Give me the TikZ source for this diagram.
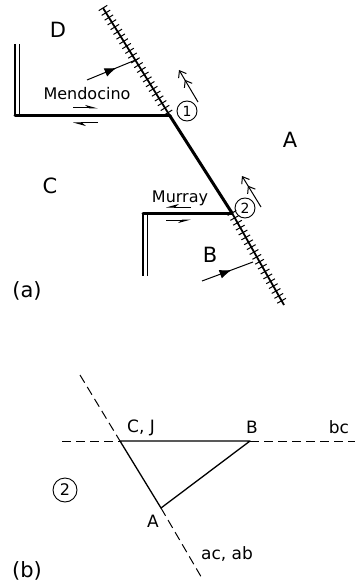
\documentclass[tikz,border=0pt]{standalone}
\usepackage{fontspec}
\setmainfont{DejaVu Sans}
\usetikzlibrary{arrows.meta,calc,decorations.pathreplacing,decorations.markings}
\tikzset{
  faultln/.style={line width=3pt, line cap=round},
  trenchln/.style={line width=1.8pt},
  trenchtick/.style={line width=1pt, decorate,
    decoration={ticks, segment length=5.6pt, amplitude=5pt}},
  ridgeln/.style={line width=1.2pt},
  slipln/.style={line width=1pt},
  halfR/.style={slipln, -{Stealth[right,length=11pt,width=6pt]}},
  halfL/.style={slipln, -{Stealth[left,length=11pt,width=6pt]}},
  motion/.style={line width=1pt,
    -{Straight Barb[length=6pt,width=9pt,sep=4pt]Straight Barb[length=6pt,width=9pt]}},
  converge/.style={line width=1pt, postaction={decorate},
    decoration={markings, mark=at position 0.58 with
      {\arrow{Latex[length=12pt,width=9pt]}}}},
  dashln/.style={line width=1pt, dash pattern=on 9pt off 5pt},
  triln/.style={line width=1.3pt},
  plate/.style={font=\fontsize{21}{21}\selectfont},
  faultname/.style={font=\fontsize{16}{16}\selectfont},
  junc/.style={draw, circle, line width=0.9pt, inner sep=1.2pt,
    minimum size=20pt, font=\fontsize{14}{14}\selectfont},
  vlabel/.style={font=\fontsize{17}{17}\selectfont},
}

\begin{document}
\begin{tikzpicture}[x=1pt,y=-1pt]
  \useasboundingbox (0,0) rectangle (355,583);
  % --- (a) plate boundaries ---
  \coordinate (trtop) at (103,8);
  \coordinate (j1) at (170,116);
  \coordinate (j2) at (232,213);
  \coordinate (trbot) at (284,305);
  \coordinate (mendW) at (15,116);
  \coordinate (murW) at (143,213);
  \draw[trenchln] (trtop) -- (j1);
  \draw[trenchtick] (trtop) -- (j1);
  \draw[trenchln] (j2) -- (trbot);
  \draw[trenchtick] (j2) -- (trbot);
  \draw[faultln] (j1) -- (j2);
  \draw[faultln] (mendW) -- (j1);
  \draw[faultln] (murW) -- (j2);
  % ridges
  \draw[ridgeln] (15,44) -- (mendW);
  \draw[ridgeln] (19.5,44) -- (19.5,114);
  \draw[ridgeln] (murW) -- (143,276);
  \draw[ridgeln] (147.5,215) -- (147.5,276);
  % slip arrows
  \coordinate (m1a) at (73,108); \coordinate (m1b) at (98,108);
  \coordinate (m2a) at (98,123); \coordinate (m2b) at (73,123);
  \coordinate (r1a) at (191,207); \coordinate (r1b) at (166,207);
  \coordinate (r2a) at (166,220); \coordinate (r2b) at (191,220);
  \draw[halfL] (m1a) -- (m1b);
  \draw[halfL] (m2a) -- (m2b);
  \draw[halfR] (r1a) -- (r1b);
  \draw[halfR] (r2a) -- (r2b);
  % convergence and motion
  \coordinate (cv1a) at (87,80); \coordinate (cv1b) at (138,59);
  \coordinate (cv2a) at (202,281); \coordinate (cv2b) at (253,262);
  \draw[converge] (cv1a) -- (cv1b);
  \draw[converge] (cv2a) -- (cv2b);
  \coordinate (mv1a) at (198,102); \coordinate (mv1b) at (179,70);
  \coordinate (mv2a) at (261,207); \coordinate (mv2b) at (242,176);
  \draw[motion] (mv1a) -- (mv1b);
  \draw[motion] (mv2a) -- (mv2b);
  % labels
  \node[junc] (n1) at (187,111) {1};
  \node[junc] (n2) at (245,208) {2};
  \node[plate] (pD) at (58,30) {D};
  \node[plate] (pA) at (290,140) {A};
  \node[plate] (pC) at (50,186) {C};
  \node[plate] (pB) at (210,255) {B};
  \node[faultname] (lmend) at (87,94) {Mendocino};
  \node[faultname] (lmur) at (180,198) {Murray};
  \node[plate] (la) at (27,291) {(a)};
  % --- (b) velocity triangle ---
  \coordinate (vC) at (120,441);
  \coordinate (vB) at (250,441);
  \coordinate (vA) at (161,508);
  \coordinate (dtop) at (80,375);
  \coordinate (dbot) at (203,580);
  \coordinate (hW) at (62,441);
  \coordinate (hE) at (355,441);
  \draw[dashln] (dtop) -- (vC);
  \draw[dashln] (vA) -- (dbot);
  \draw[dashln] (hW) -- (vC);
  \draw[dashln] (vB) -- (hE);
  \draw[triln, line join=round] (vC) -- (vB) -- (vA) -- cycle;
  \node[vlabel] (lCJ) at (141,428) {C, J};
  \node[vlabel] (lB) at (252,427) {B};
  \node[vlabel] (lbc) at (339,427) {bc};
  \node[vlabel] (lA) at (153,521) {A};
  \node[vlabel] (lac) at (227,554) {ac, ab};
  \node[junc, minimum size=24pt, font=\fontsize{16}{16}\selectfont] (n2b) at (65,490) {2};
  \node[plate] (lb) at (27,571) {(b)};
\end{tikzpicture}
\end{document}
